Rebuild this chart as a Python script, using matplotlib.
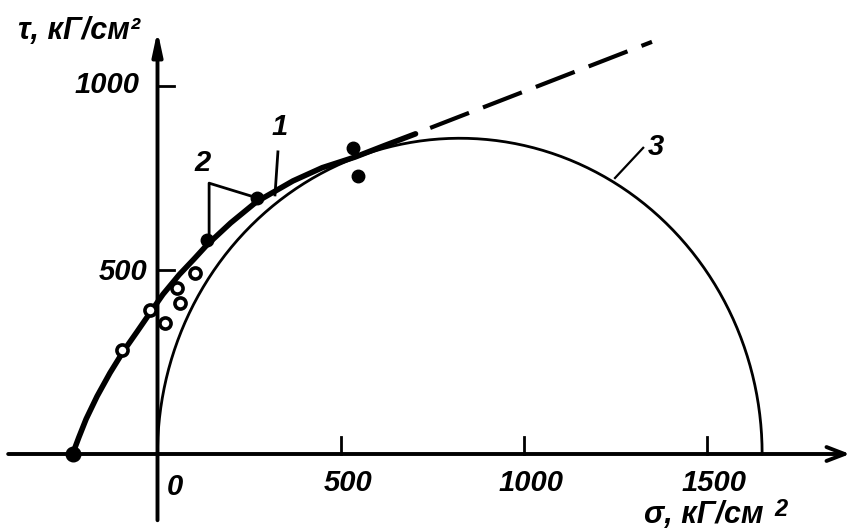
import numpy as np
import matplotlib.pyplot as plt

# envelope (curve 1), kG/cm2
env_sigma = [-232, -215, -195, -165, -130, -94, -56, -20, 15, 60, 100, 135, 200, 270, 370, 450, 540, 620, 705]
env_tau = [0, 45, 95, 157, 220, 278, 332, 384, 434, 488, 530, 568, 628, 685, 742, 778, 807, 838, 870]
# dashed continuation of the envelope
dash_sigma = [745, 1351]
dash_tau = [886, 1120]
# Mohr circle (curve 3): ends on sigma axis, top height
circle_left, circle_right, circle_top = 0, 1652, 858
# test points
filled_sigma = [-232, 135, 272, 534, 548]
filled_tau = [0, 582, 696, 832, 755]
open_sigma = [-97, -20, 20, 53, 61, 102]
open_tau = [283, 391, 356, 451, 410, 492]
xticks = [500, 1000, 1500]
yticks = [500, 1000]

plt.rcParams['font.family'] = ['Liberation Sans', 'DejaVu Sans']

fig = plt.figure(figsize=(8.56, 5.31), dpi=100)
ax = fig.add_axes([0, 0, 1, 1])
# pixel calibration: sigma 0 at x=157.5, 0.366 px/unit; tau 0 at y=454, 0.368 px/unit
ax.set_xlim(-157.5 / 0.366, (856 - 157.5) / 0.366)
ax.set_ylim(-(531 - 454) / 0.368, 454 / 0.368)
ax.axis('off')

# axes with arrows
ax.annotate('', xy=(1892, 0), xytext=(-408, 0),
            arrowprops=dict(arrowstyle='->,head_length=1.3,head_width=0.5', lw=2.8, color='black',
                            shrinkA=0, shrinkB=0))
ax.annotate('', xy=(0, 1150), xytext=(0, -180),
            arrowprops=dict(arrowstyle='-|>,head_length=1.4,head_width=0.3', lw=2.8, color='black',
                            shrinkA=0, shrinkB=0))
for t in xticks:
    ax.plot([t, t], [0, 45], color='black', lw=2.0)
for t in yticks:
    ax.plot([0, 45], [t, t], color='black', lw=2.0)

# circle 3
th = np.linspace(0, np.pi, 300)
cx = (circle_left + circle_right) / 2
rx = (circle_right - circle_left) / 2
ax.plot(cx + rx * np.cos(th), circle_top * np.sin(th), color='black', lw=2.0)

# envelope 1
ax.plot(env_sigma, env_tau, color='black', lw=4.0, solid_capstyle='round', solid_joinstyle='round')
ax.plot(dash_sigma, dash_tau, color='black', lw=3.0, linestyle=(0, (10, 3.6)))

# points
ax.plot(filled_sigma[1:], filled_tau[1:], 'o', color='black', ms=9)
ax.plot(filled_sigma[:1], filled_tau[:1], 'o', color='black', ms=10.5)
ax.plot(open_sigma, open_tau, 'o', mfc='white', mec='black', mew=2.6, ms=8)

# leaders
ax.plot([329, 321], [821, 704], color='black', lw=2.0)
ax.plot([141, 141, 272], [590, 736, 696], color='black', lw=2.0)
ax.plot([1327, 1250], [832, 750], color='black', lw=1.6)

tk = dict(fontsize=21, style='italic', weight='bold', color='black')
ax.text(335, 889, '1', ha='center', va='center', **tk)
ax.text(124, 791, '2', ha='center', va='center', **tk)
ax.text(1362, 834, '3', ha='center', va='center', **tk)

ax.text(-50, 1003, '1000', ha='right', va='center', **tk)
ax.text(-27, 495, '500', ha='right', va='center', **tk)
ax.text(48, -90, '0', ha='center', va='center', **tk)
for t in xticks:
    ax.text(t + 20, -80, str(t), ha='center', va='center', **tk)

lk = dict(fontsize=22, style='italic', weight='bold', color='black')
ax.text(-381, 1149, 'τ, кГ/см²', ha='left', va='center', **lk)
ax.text(1330, -166, 'σ, кГ/см', ha='left', va='center', **lk)
ax.text(1685, -152, '2', ha='left', va='center', fontsize=17, style='italic', weight='bold')

fig.savefig('out.png', dpi=100)
